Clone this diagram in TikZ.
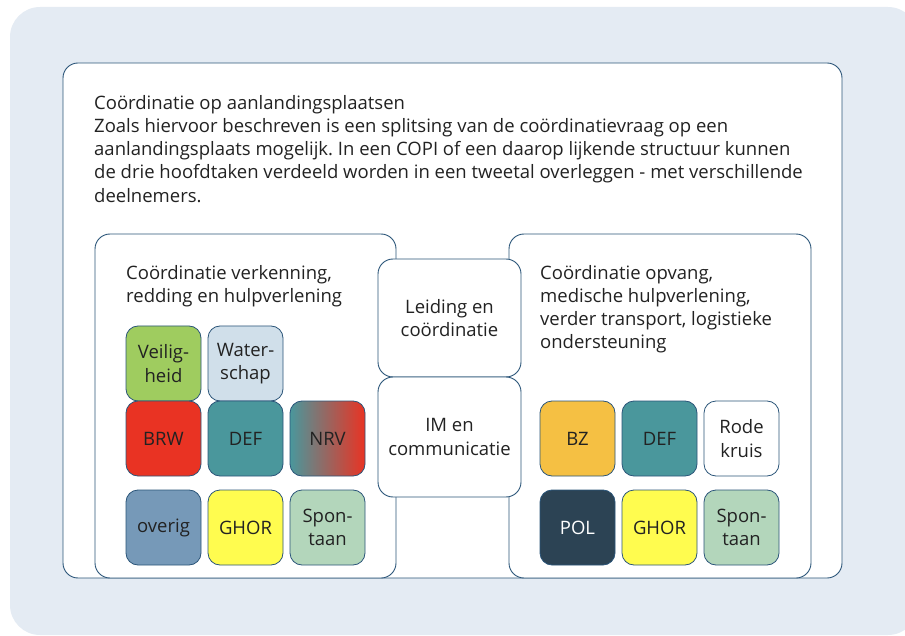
\documentclass[tikz,border=0pt]{standalone}
\usepackage{fontspec}
\setmainfont{Open Sans}
\usetikzlibrary{positioning}
\frenchspacing

\definecolor{bgblue}{HTML}{E4EBF3}
\definecolor{frameblue}{HTML}{2B5579}
\definecolor{inkgray}{HTML}{222222}
\definecolor{veiliggreen}{HTML}{9FCC5F}
\definecolor{waterblue}{HTML}{D0DFEA}
\definecolor{brwred}{HTML}{E93323}
\definecolor{defteal}{HTML}{4A979C}
\definecolor{overigblue}{HTML}{7699B8}
\definecolor{ghoryellow}{HTML}{FFFC4F}
\definecolor{spongreen}{HTML}{B3D6BB}
\definecolor{bzorange}{HTML}{F5C043}
\definecolor{poldark}{HTML}{2C4354}

\begin{document}
\begin{tikzpicture}[x=1pt, y=-1pt,
    every node/.style={font=\fontsize{18.5}{23.2}\selectfont, text=inkgray},
    frame/.style={draw=frameblue, line width=0.9pt, fill=white, rounded corners=15pt, inner sep=0pt},
    tile/.style={draw=frameblue, line width=0.8pt, rounded corners=12pt, minimum width=75pt, minimum height=75pt, inner sep=0pt, align=center},
    txt/.style={anchor=north west, align=left, inner sep=0pt}]
    \useasboundingbox (0,0) rectangle (905,636);
    \fill[bgblue, rounded corners=30pt] (10,7) rectangle (918,635);

    % frames
    \node[frame, minimum width=779pt, minimum height=515pt] (outer) at (452.5,320.5) {};
    \node[frame, minimum width=301pt, minimum height=344pt] (left) at (245.5,406) {};
    \node[frame, minimum width=302pt, minimum height=344pt] (right) at (660,406) {};

    % texts
    \node[txt] (intro) at (94,95) {Coördinatie op aanlandingsplaatsen\\
        Zoals hiervoor beschreven is een splitsing van de coördinatievraag op een\\
        aanlandingsplaats mogelijk. In een COPI of een daarop lijkende structuur kunnen\\
        de drie hoofdtaken verdeeld worden in een tweetal overleggen - met verschillende\\
        deelnemers.};
    \node[txt] (lefttitle) at (126,265) {Coördinatie verkenning,\\ redding en hulpverlening};
    \node[txt] (righttitle) at (540,265) {Coördinatie opvang,\\ medische hulpverlening,\\ verder transport, logistieke\\ ondersteuning};

    % left tiles
    \node[tile, fill=veiliggreen] (veilig) at (163.5,363.5) {Veilig-\\heid};
    \node[tile, fill=waterblue] (water) at (245.5,363.5) {Water-\\schap};
    \node[tile, fill=brwred] (brw) at (163.5,438.5) {BRW};
    \node[tile, fill=defteal] (defl) at (245.5,438.5) {DEF};
    \node[tile, left color=defteal, middle color=defteal!50!brwred, right color=brwred] (nrv) at (327.5,438.5) {NRV};
    \node[tile, fill=overigblue] (overig) at (163.5,527.5) {overig};
    \node[tile, fill=ghoryellow] (ghorl) at (245.5,527.5) {GHOR};
    \node[tile, fill=spongreen] (sponl) at (327.5,527.5) {Spon-\\taan};

    % right tiles
    \node[tile, fill=bzorange] (bz) at (577.5,438.5) {BZ};
    \node[tile, fill=defteal] (defr) at (659.5,438.5) {DEF};
    \node[tile, fill=white] (rode) at (741.5,438.5) {Rode\\kruis};
    \node[tile, fill=poldark, text=white] (pol) at (577.5,527.5) {POL};
    \node[tile, fill=ghoryellow] (ghorr) at (659.5,527.5) {GHOR};
    \node[tile, fill=spongreen] (sponr) at (741.5,527.5) {Spon-\\taan};

    % middle
    \node[frame, minimum width=143pt, minimum height=118pt, align=center] (leiding) at (449.5,318) {Leiding en\\coördinatie};
    \node[frame, minimum width=143pt, minimum height=120pt, align=center] (im) at (449.5,437) {IM en\\communicatie};
\end{tikzpicture}
\end{document}
